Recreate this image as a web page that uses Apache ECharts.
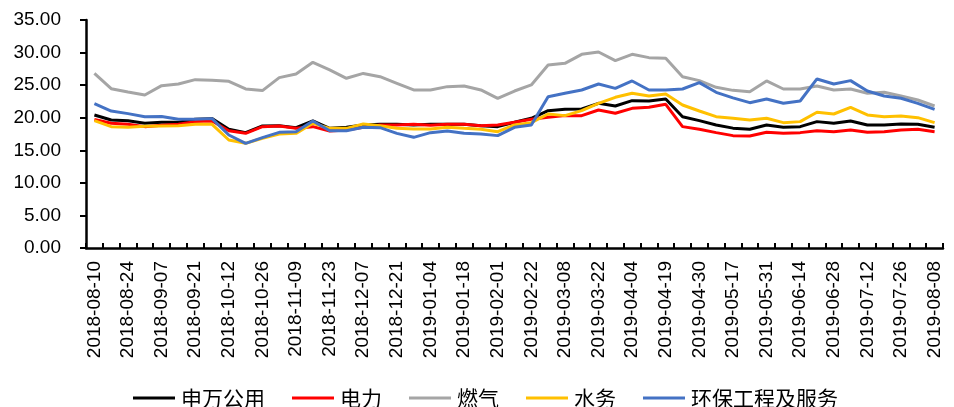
<!DOCTYPE html>
<html>
<head>
<meta charset="utf-8">
<script src="https://cdn.jsdelivr.net/npm/echarts@6/dist/echarts.min.js"></script>
<style>
  html, body { margin: 0; padding: 0; background: #fff; }
  #chart { width: 954px; height: 407px; }
</style>
</head>
<body>
<div id="chart"></div>
<script>
// Weekly dates
const dates = [
  '2018-08-10','2018-08-17','2018-08-24','2018-08-31','2018-09-07','2018-09-14','2018-09-21','2018-09-28',
  '2018-10-12','2018-10-19','2018-10-26','2018-11-02','2018-11-09','2018-11-16','2018-11-23','2018-11-30',
  '2018-12-07','2018-12-14','2018-12-21','2018-12-28','2019-01-04','2019-01-11','2019-01-18','2019-01-25',
  '2019-02-01','2019-02-15','2019-02-22','2019-03-01','2019-03-08','2019-03-15','2019-03-22','2019-03-29',
  '2019-04-04','2019-04-12','2019-04-19','2019-04-26','2019-04-30','2019-05-10','2019-05-17','2019-05-24',
  '2019-05-31','2019-06-06','2019-06-14','2019-06-21','2019-06-28','2019-07-05','2019-07-12','2019-07-19',
  '2019-07-26','2019-08-02','2019-08-08'
];

const seriesNames = ['申万公用', '电力', '燃气', '水务', '环保工程及服务'];
const seriesColors = ['#000000', '#FF0000', '#A5A5A5', '#FFC000', '#4472C4'];

const swUtilities = [
  20.42,19.65,19.55,19.14,19.29,19.29,19.75,19.86,18.22,17.71,18.73,18.78,18.47,19.50,18.37,18.53,
  18.88,18.99,18.99,18.88,18.99,18.99,18.99,18.78,18.63,19.30,19.91,21.08,21.29,21.34,22.21,21.80,
  22.62,22.57,22.88,20.16,19.55,18.88,18.40,18.22,18.88,18.53,18.63,19.40,19.14,19.50,18.88,18.88,
  19.04,18.99,18.53
];
const power = [
  19.75,19.14,18.99,18.63,18.83,18.99,19.40,19.50,18.01,17.60,18.63,18.73,18.37,18.63,17.96,18.11,
  18.53,18.88,18.88,18.99,18.83,18.99,18.99,18.78,18.88,19.30,19.75,20.06,20.32,20.32,21.19,20.68,
  21.44,21.60,22.06,18.63,18.22,17.71,17.25,17.20,17.76,17.60,17.71,18.01,17.86,18.11,17.76,17.86,
  18.11,18.22,17.86
];
const gas = [
  26.80,24.46,23.95,23.49,24.92,25.18,25.84,25.74,25.59,24.41,24.16,26.15,26.70,28.50,27.33,26.05,
  26.80,26.30,25.28,24.26,24.26,24.77,24.87,24.26,22.98,24.10,25.03,28.10,28.35,29.73,30.09,28.76,
  29.73,29.22,29.12,26.30,25.69,24.67,24.20,24.00,25.64,24.41,24.41,24.87,24.26,24.41,23.75,23.90,
  23.34,22.72,21.80
];
const water = [
  19.55,18.63,18.53,18.68,18.73,18.78,18.99,18.99,16.58,16.07,16.84,17.50,17.60,19.14,18.37,18.37,
  19.04,18.78,18.37,18.27,18.27,18.53,18.37,18.22,17.86,18.88,19.24,20.57,20.32,21.08,22.21,23.13,
  23.75,23.34,23.64,21.95,21.03,20.16,19.91,19.65,19.91,19.24,19.40,20.83,20.57,21.60,20.42,20.16,
  20.27,20.01,19.24
];
const envServices = [
  22.16,21.03,20.63,20.16,20.20,19.75,19.75,19.86,17.35,16.07,16.94,17.76,17.86,19.50,18.01,18.01,
  18.53,18.47,17.60,16.99,17.71,17.96,17.60,17.50,17.25,18.53,18.88,23.23,23.75,24.26,25.18,24.51,
  25.64,24.26,24.26,24.41,25.38,23.90,23.05,22.31,22.88,22.21,22.57,25.95,25.18,25.69,24.10,23.34,
  22.98,22.21,21.29
];

const values = [swUtilities, power, gas, water, envServices];

const yMin = 0, yMax = 35, yStep = 5;

const chart = echarts.init(document.getElementById('chart'), null, { renderer: 'canvas' });

chart.setOption({
  animation: false,
  backgroundColor: '#ffffff',
  grid: { left: 86, right: 11, top: 20, bottom: 159, containLabel: false },
  legend: {
    top: 387,
    left: 133,
    padding: 0,
    icon: 'rect',
    itemWidth: 42,
    itemHeight: 3,
    itemGap: 27,
    textStyle: { fontFamily: 'Noto Sans CJK SC', fontSize: 21, lineHeight: 22, color: '#000', padding: [0, 0, 0, 1] },
    data: seriesNames
  },
  xAxis: {
    type: 'category',
    data: dates,
    boundaryGap: true,
    axisLine: { lineStyle: { color: '#000', width: 2.5 } },
    axisTick: { show: true, interval: 0, inside: true, length: 5, lineStyle: { color: '#000', width: 2 } },
    axisLabel: {
      interval: 1,
      rotate: 90,
      margin: 13,
      fontFamily: 'Liberation Sans',
      fontSize: 19,
      color: '#000'
    },
    splitLine: { show: false }
  },
  yAxis: {
    type: 'value',
    min: yMin,
    max: yMax,
    interval: yStep,
    axisLine: { show: true, lineStyle: { color: '#000', width: 2.5 } },
    axisTick: { show: true, length: 6, lineStyle: { color: '#000', width: 2 } },
    axisLabel: {
      margin: 25,
      fontFamily: 'Liberation Sans',
      fontSize: 19,
      color: '#000',
      formatter: v => v.toFixed(2)
    },
    splitLine: { show: false }
  },
  series: seriesNames.map((name, i) => ({
    name,
    type: 'line',
    data: values[i],
    symbol: 'none',
    smooth: false,
    lineStyle: { color: seriesColors[i], width: 3 },
    itemStyle: { color: seriesColors[i] }
  }))
});
</script>
</body>
</html>
